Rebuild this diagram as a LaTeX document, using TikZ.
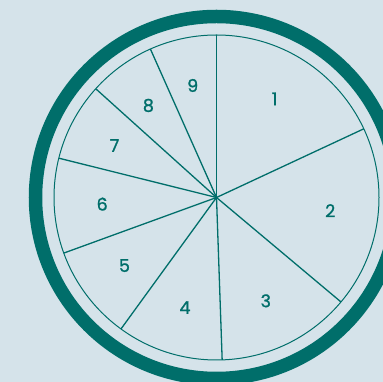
\documentclass[tikz,border=0pt]{standalone}
\usepackage{fontspec}
\setmainfont{Poppins}
\usetikzlibrary{calc}
\definecolor{bg}{HTML}{D5E3EA}
\definecolor{teal}{HTML}{006E6A}
\begin{document}
\begin{tikzpicture}[x=1pt,y=1pt,
  spoke/.style={draw=teal,line width=1.3pt},
  lbl/.style={text=teal,font=\fontsize{17.5}{18}\selectfont\addfontfeature{FakeBold=1.2}}]
\useasboundingbox (0,0) rectangle (383,382);
\clip (0,0) rectangle (383,382);
\fill[bg] (0,0) rectangle (383,382);
\coordinate (c) at (216.5,184.5);
\draw[teal,line width=13.5pt] (c) circle (181);
\draw[teal,line width=1pt] (c) circle (162.5);
\foreach \a/\n in {90/a,25/b,-40/c,-88/d,234/e,200/f,166/g,138/h,114/i}{
  \coordinate (p\n) at ($(c)+(\a:162.5)$);
  \draw[spoke] (c) -- (p\n);
}
\foreach \a/\t in {59.5/1,-6.6/2,-64.5/3,-106/4,216.5/5,183.3/6,153/7,126.5/8,102/9}{
  \node[lbl] (l\t) at ($(c)+(\a:114.5)$) {\t};
}
\end{tikzpicture}
\end{document}
